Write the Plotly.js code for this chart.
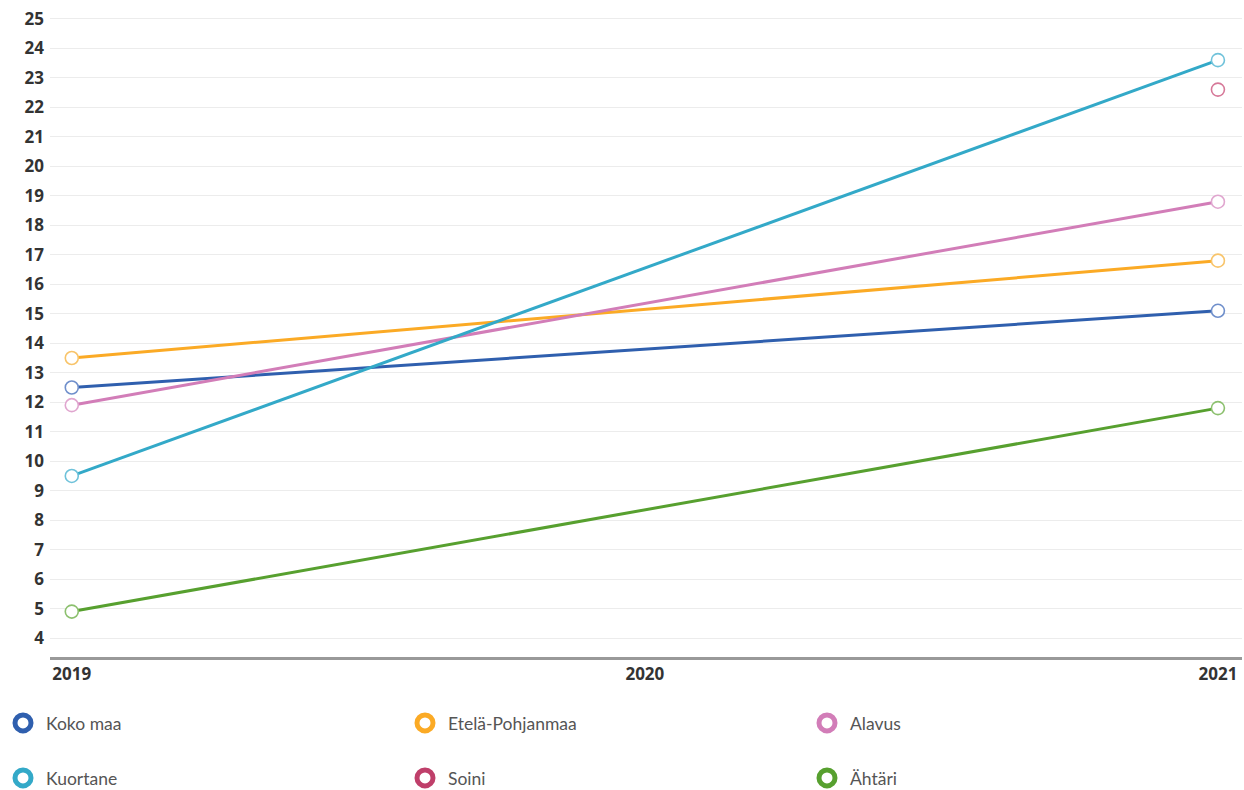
<!DOCTYPE html>
<html><head><meta charset="utf-8">
<script src="https://cdn.plot.ly/plotly-3.0.1.min.js"></script>
<style>html,body{margin:0;padding:0;background:#fff}#chart{width:1244px;height:790px}</style>
</head><body><div id="chart"></div>
<script>
const years = [2019, 2020, 2021];
const kokoMaa = [12.5, null, 15.1];
const etelaPohjanmaa = [13.5, null, 16.8];
const alavus = [11.9, null, 18.8];
const kuortane = [9.5, null, 23.6];
const soini = [null, null, 22.6];
const ahtari = [4.9, null, 11.8];
const yTicks = [4,5,6,7,8,9,10,11,12,13,14,15,16,17,18,19,20,21,22,23,24,25];

const series = [
  {name:'Koko maa', y:kokoMaa, color:'#2f5fae', mk:'#6f8fcb'},
  {name:'Etelä-Pohjanmaa', y:etelaPohjanmaa, color:'#fbaa25', mk:'#f8c46a'},
  {name:'Alavus', y:alavus, color:'#d27db8', mk:'#e0a6cf'},
  {name:'Kuortane', y:kuortane, color:'#33a9c8', mk:'#6fc2da'},
  {name:'Soini', y:soini, color:'#bf3f6a', mk:'#d67898'},
  {name:'Ähtäri', y:ahtari, color:'#57a02f', mk:'#8cc06e'}
];

const traces = [];
series.forEach(s => {
  traces.push({
    x: years, y: s.y, type:'scatter', mode:'lines+markers', connectgaps:true,
    line:{color:s.color, width:3},
    marker:{size:13, color:'#ffffff', line:{color:s.mk, width:1.6}},
    showlegend:false, hoverinfo:'skip'
  });
});
const legendNames = ['legend','legend2','legend3','legend4','legend5','legend6'];
series.forEach((s, i) => {
  traces.push({
    x:[null], y:[null], type:'scatter', mode:'markers', name:s.name,
    marker:{size:16, color:'#ffffff', line:{color:s.color, width:5}},
    legend:legendNames[i], showlegend:true
  });
});

const legendBase = {
  orientation:'h', xref:'container', yref:'container', xanchor:'left', yanchor:'middle',
  itemwidth:36,
  font:{family:'Lato, "Source Sans Pro", sans-serif', size:17.5, color:'#555555'},
  bgcolor:'rgba(0,0,0,0)', itemclick:false, itemdoubleclick:false
};
const colX = [0, 402/1244, 804/1244];
const rowY = [1 - 723/790, 1 - 778/790];

const layout = {
  width:1244, height:790,
  margin:{l:50, r:2, t:10, b:133},
  paper_bgcolor:'#ffffff', plot_bgcolor:'#ffffff',
  xaxis:{
    range:[2018.962, 2021.042], tickvals:years, ticktext:years.map(String),
    showgrid:false, zeroline:false, showline:true, linecolor:'#999999', linewidth:3,
    ticks:'', ticklen:0,
    tickfont:{family:'"Open Sans", "DejaVu Sans", sans-serif', size:17, color:'#333333', weight:'bold'}
  },
  yaxis:{
    range:[3.36, 25.3], tickvals:yTicks, ticktext:yTicks.map(String),
    showgrid:true, gridcolor:'#ececec', gridwidth:1, zeroline:false, showline:false,
    ticks:'', ticklabelstandoff:5,
    tickfont:{family:'"Open Sans", "DejaVu Sans", sans-serif', size:17, color:'#333333', weight:'bold'}
  },
  showlegend:true
};
legendNames.forEach((ln, i) => {
  layout[ln] = Object.assign({}, legendBase, {x: colX[i % 3], y: rowY[Math.floor(i / 3)]});
});

Plotly.newPlot('chart', traces, layout, {displayModeBar:false, staticPlot:true});
</script></body></html>
